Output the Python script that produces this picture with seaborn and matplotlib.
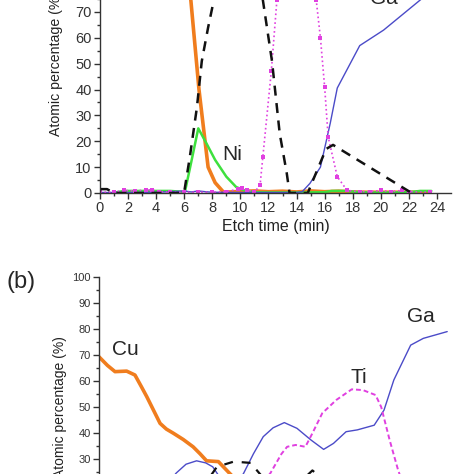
"""
Depth profile (atomic percentage vs etch time), two cropped panels.
"""

import matplotlib.pyplot as plt
import seaborn as sns

# ---- panel (a): top ----
a_cu_t = [0, 3, 6, 6.47, 7.05, 7.7, 8.2, 8.8, 10, 11, 12, 13, 14, 15, 16, 17, 18, 19, 20, 22, 23.5]
a_cu_v = [97, 97, 95, 74.6, 40, 10, 4, 0.3, 0.6, 0.8, 0.5, 0.7, 0.4, 0.8, 0.5, 0.7, 0.4, 0.3, 0.3, 0.3, 0.3]

a_ni_t = [0.9, 1.7, 3, 5, 5.8, 6.05, 6.5, 7.0, 7.6, 8.2, 9.0, 9.7, 10.3, 11, 12, 14, 16, 16.5,
          17.5, 18.5, 20, 22, 22.8, 23.6]
a_ni_v = [0, 0.8, 0.8, 0.8, 0.5, 0.5, 12, 25, 19, 12.8, 6.3, 2.3, 1, 0.3, 0.2, 0.2, 0.3, 0.8,
          0.8, 0.3, 0.2, 0.3, 0.8, 0.8]

a_au_t = [0, 0.5, 1, 3, 5, 5.8, 6.0, 6.4, 6.9, 7.25, 7.7, 7.97, 8.5, 9.5, 10.5, 11.2, 11.6,
          12.25, 12.8, 13.3, 13.5, 14.8, 15.1, 16.1, 16.6, 21.9, 22.2]
a_au_v = [1.5, 1.5, 0, 0, 0, 0, 0.5, 14, 33, 51, 64, 71, 85, 95, 95, 85, 74.6,
          51, 23, 7.7, 0, 0, 4, 17, 18.6, 1, 0]

a_ti_t = [0, 1, 1.7, 2.5, 3.3, 3.7, 4.2, 5, 6, 7, 8, 9, 9.8, 10.1, 10.5, 11, 11.4, 11.6,
          12.2, 12.6, 13.2, 14, 14.8, 15.4, 15.7, 16.0, 16.25, 16.9, 17.6, 18.5, 19.2, 20,
          20.7, 21.5, 22, 23.5]
a_ti_v = [0.3, 0.3, 1, 0.8, 1.2, 1.2, 0.5, 0.3, 0.3, 0.3, 0.3, 0.5, 1.5, 1.8, 1.2, 0.3, 3, 14,
          47, 74.6, 92, 95, 92, 74.6, 60, 41, 21.7, 6.3, 1, 0.5, 0.5, 1, 0.5, 1, 0.5, 0.3]

a_ga_t = [0, 2, 4, 5, 6, 6.5, 7, 7.5, 8, 10, 12, 14, 14.4, 14.95, 15.7, 16.4, 16.9, 18.5,
          20.2, 22.8, 24]
a_ga_v = [0.2, 0.2, 0.3, 0.5, 0.8, 0.4, 0.8, 0.5, 0.3, 0.2, 0.2, 0.2, 0.5, 3.7, 10, 27, 40.6,
          57, 63, 74.6, 80]

# ---- panel (b): bottom ----
b_cu_t = [0, 0.6, 1.14, 1.97, 2.56, 3.0, 3.4, 4.35, 4.8, 5.3, 6.0, 6.7, 7.2, 7.66, 8.5, 9.3,
          10.5, 12, 14, 16]
b_cu_v = [69.3, 66, 63.6, 63.8, 62.3, 58, 54, 43.7, 41.5, 39.9, 37.5, 34.7, 32, 29.3, 29,
          24.5, 18, 12, 8, 5]

b_ga_t = [0, 3, 4.5, 5.5, 6.2, 6.95, 7.6, 8.1, 8.6, 9.3, 9.9, 10.3, 11.0, 11.7, 12.4, 13.2,
          14.1, 15.1, 16.0, 16.7, 17.6, 18.4, 19.6, 20.3, 21.0, 22.2, 23.1, 24.8]
b_ga_v = [5, 10, 18, 24.6, 28, 29.3, 28.5, 27, 23, 20, 21, 24.5, 32, 38.6, 42, 44,
          41.8, 37.3, 33.7, 36, 40.5, 41.2, 43, 48.8, 60.4, 73.8, 76.4, 79]

b_ti_t = [8, 10.5, 11.5, 12.2, 13.0, 13.4, 14.0, 14.7, 15.2, 15.9, 16.9, 18.0, 18.8, 19.7,
          20.1, 20.7, 21.3, 22, 23]
b_ti_v = [5, 15, 20, 24.5, 32, 34.7, 35.4, 34.7, 39.9, 47.6, 52.7, 56.8, 56.5, 54.6,
          50, 37.3, 25.8, 15, 8]

b_au_t = [6, 7.5, 8.4, 9.6, 10.8, 11.5, 13, 14.5, 15.2, 16, 18]
b_au_v = [15, 20, 27, 29, 28.5, 24, 18, 22, 25.6, 22, 15]

x_ticks = list(range(0, 26, 2))
y_ticks = list(range(0, 101, 10))

ORANGE = '#f07d1e'
GREEN = '#3ee03e'
BLUE = '#4b4bc8'
MAGENTA = '#e040e0'
BLACK = '#111111'

sns.set_style('ticks')
plt.rcParams['font.family'] = ['Liberation Sans', 'DejaVu Sans']
plt.rcParams['xtick.direction'] = 'out'
plt.rcParams['ytick.direction'] = 'out'

fig = plt.figure(figsize=(4.74, 4.74), dpi=100)
W = H = 474.0

# axes placed partly outside the figure to mimic the cropped original
ax1 = fig.add_axes([100 / W, (H - 193) / H, 351 / W, 258.6 / H])
ax2 = fig.add_axes([99 / W, (H - 537) / H, 351 / W, 260 / H])


def style_axis(ax, label_size, tick_size):
    ax.set_xlim(0, 25)
    ax.set_ylim(0, 100)
    ax.set_yticks(y_ticks)
    ax.set_xticks(x_ticks)
    ax.set_xticks([i for i in range(0, 25)], minor=True)
    ax.set_yticks([i for i in range(5, 100, 10)], minor=True)
    for s in ['top', 'right']:
        ax.spines[s].set_visible(False)
    for s in ['left', 'bottom']:
        ax.spines[s].set_color('#333333')
        ax.spines[s].set_linewidth(1.0)
    ax.tick_params(which='major', length=4, width=1, color='#333333',
                   labelsize=tick_size, labelcolor='#333333', pad=2)
    ax.tick_params(which='minor', length=2.5, width=1, color='#333333')
    ax.set_ylabel('Atomic percentage (%)', fontsize=label_size, color='#222222')


# ---- top panel ----
style_axis(ax1, 10.2, 10.5)
sns.lineplot(x=a_cu_t, y=a_cu_v, ax=ax1, color=ORANGE, linewidth=2.6)
sns.lineplot(x=a_ni_t, y=a_ni_v, ax=ax1, color=GREEN, linewidth=1.8)
sns.lineplot(x=a_ga_t, y=a_ga_v, ax=ax1, color=BLUE, linewidth=1.0)
sns.lineplot(x=a_ti_t, y=a_ti_v, ax=ax1, color=MAGENTA, linewidth=1.2, linestyle=':',
             marker='s', markersize=2.5, markeredgewidth=0)
sns.lineplot(x=a_au_t, y=a_au_v, ax=ax1, color=BLACK, linewidth=1.8,
             linestyle=(0, (4, 3)))
ax1.set_xlabel('Etch time (min)', fontsize=11.5, color='#222222', labelpad=3)
ax1.yaxis.set_label_coords(-0.105, 0.5)
ax1.text(8.7, 15, 'Ni', fontsize=15, va='center', ha='left')
ax1.text(19.2, 71.5, 'Ga', fontsize=15, va='bottom', ha='left')

# ---- bottom panel ----
style_axis(ax2, 10, 8)
ax2.spines['bottom'].set_visible(False)
sns.lineplot(x=b_cu_t, y=b_cu_v, ax=ax2, color=ORANGE, linewidth=2.6)
sns.lineplot(x=b_ga_t, y=b_ga_v, ax=ax2, color=BLUE, linewidth=1.0)
sns.lineplot(x=b_ti_t, y=b_ti_v, ax=ax2, color=MAGENTA, linewidth=1.4,
             linestyle=(0, (2.5, 1.5)))
sns.lineplot(x=b_au_t, y=b_au_v, ax=ax2, color=BLACK, linewidth=1.6,
             linestyle=(0, (4, 4)))
ax2.yaxis.set_label_coords(-0.091, 0.5)
ax2.text(1.9, 72.3, 'Cu', fontsize=15, va='center', ha='center')
ax2.text(18.5, 61.2, 'Ti', fontsize=15, va='center', ha='center')
ax2.text(22.9, 85, 'Ga', fontsize=15, va='center', ha='center')

fig.text(21 / W, 1 - 282 / H, '(b)', fontsize=17, ha='center', va='center')

fig.savefig('out.png', dpi=100)
plt.close(fig)
